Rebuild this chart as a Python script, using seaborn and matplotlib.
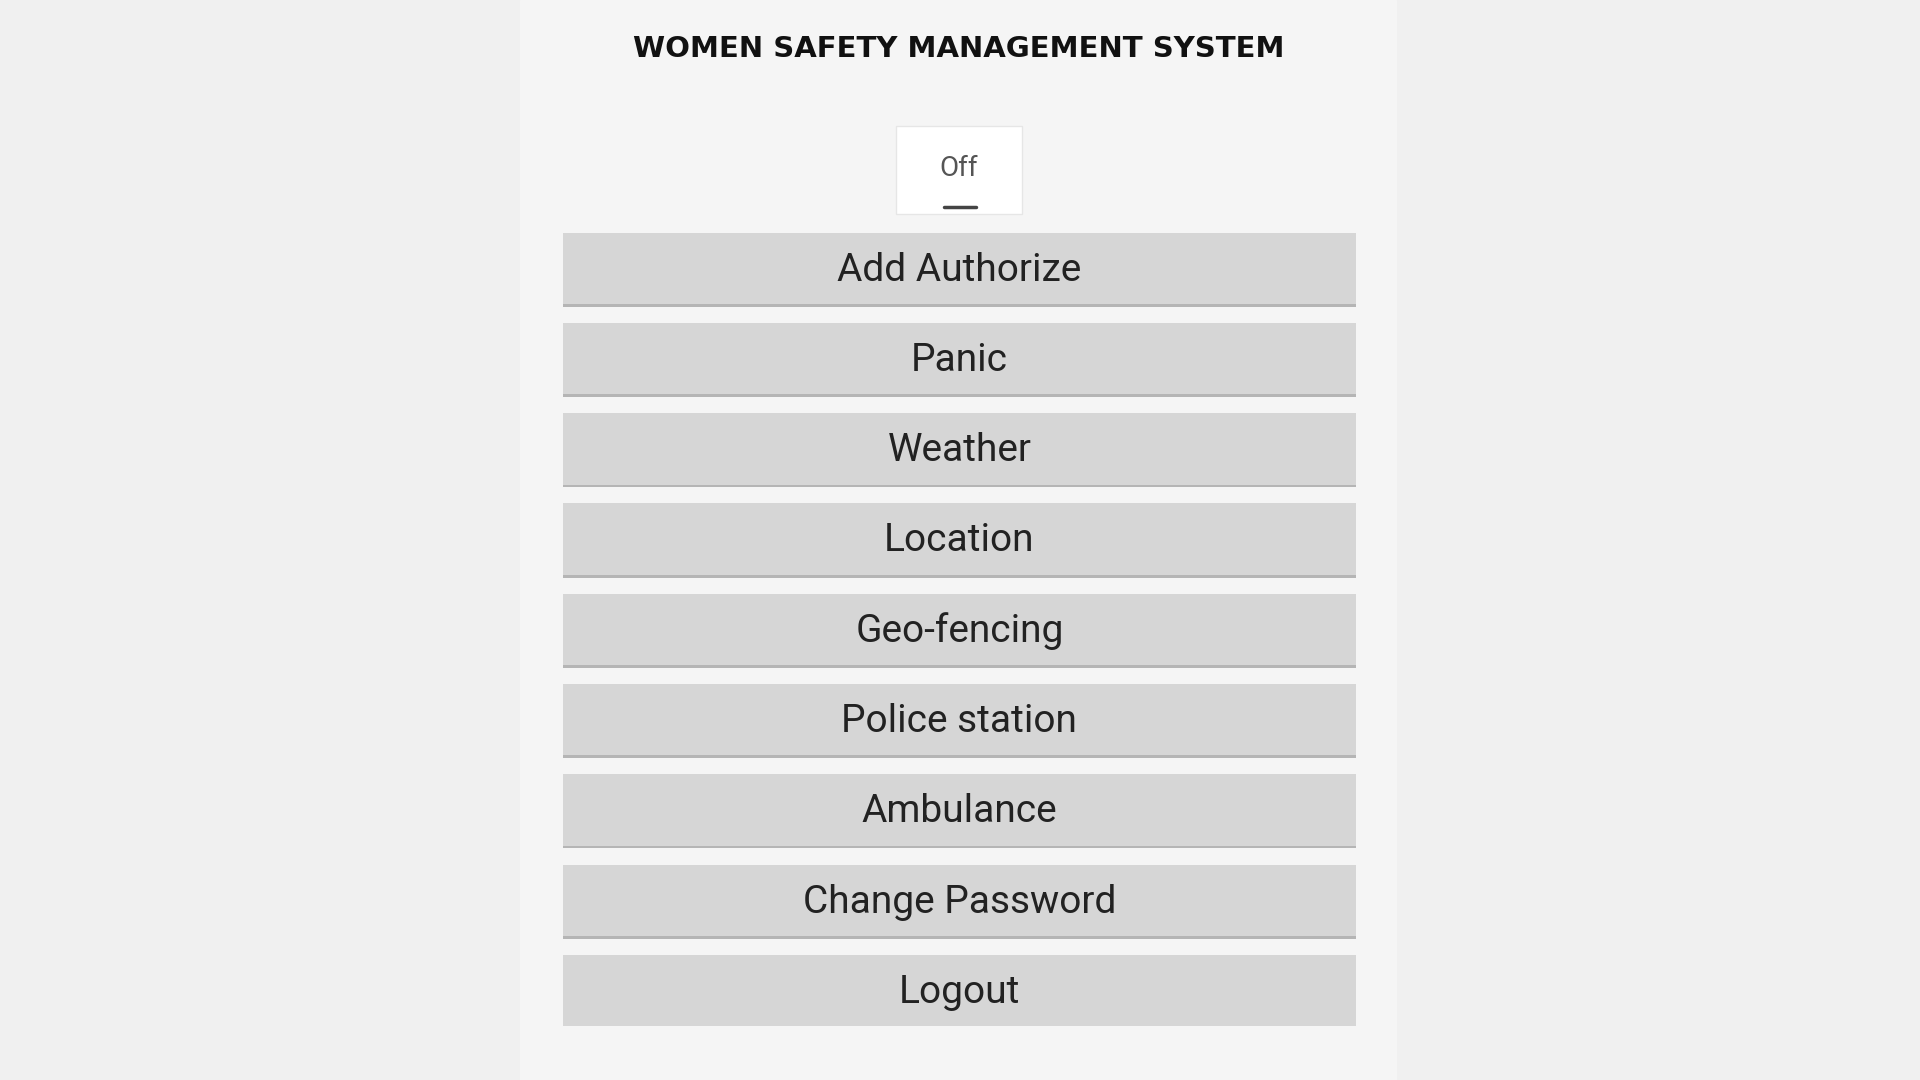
import matplotlib
matplotlib.use("Agg")
import matplotlib.pyplot as plt
import matplotlib.patheffects as pe
import pandas as pd
import seaborn as sns

title = "WOMEN SAFETY MANAGEMENT SYSTEM"
toggle_label = "Off"
buttons = ["Add Authorize", "Panic", "Weather", "Location", "Geo-fencing",
           "Police station", "Ambulance", "Change Password", "Logout"]
widths = [1] * len(buttons)

sns.set_theme(style="white")
plt.rcParams["font.family"] = ["Roboto", "DejaVu Sans"]

W, H = 1568, 882  # reference layout units
fig = plt.figure(figsize=(19.2, 10.8), dpi=100, facecolor="#f0f0f0")

# background panel
bg = fig.add_axes([0, 0, 1, 1])
bg.set_xlim(0, W)
bg.set_ylim(H, 0)
bg.axis("off")
bg.add_patch(plt.Rectangle((425, 0), 715, H, color="#f5f5f5", zorder=0))
bg.text(783, 40, title, ha="center", va="center", fontsize=21,
        fontweight="bold", color="#111111", family=["DejaVu Sans"])
bg.add_patch(plt.Rectangle((732, 103), 103, 72, facecolor="white",
                           edgecolor="#e6e6e6", lw=1, zorder=1))
bg.text(783, 138, toggle_label, ha="center", va="center", fontsize=20,
        color="#555555", zorder=2)
bg.plot([771, 797], [169, 169], color="#444444", lw=2.5, zorder=2)

# buttons
def fx(x):
    return x / W

def fy(y):
    return 1 - y / H

ax = fig.add_axes([fx(460), fy(838), fx(1107) - fx(460), fy(190) - fy(838)])
df = pd.DataFrame({"label": buttons, "w": widths})
sns.barplot(data=df, x="w", y="label", orient="h", color="#d6d6d6",
            saturation=1, width=0.79, ax=ax)
for p in ax.patches:
    p.set_edgecolor("none")
    p.set_path_effects([pe.SimplePatchShadow(offset=(0, -2), shadow_rgbFace="#9a9a9a",
                                             alpha=0.7), pe.Normal()])
for i, name in enumerate(buttons):
    ax.text(0.5, i + 0.02, name, ha="center", va="center", fontsize=28, color="#222222")
ax.set_xlim(0, 1)
ax.set_ylim(len(buttons) - 1 + 0.395, -0.395)
ax.axis("off")

fig.savefig("out.png", dpi=100, facecolor=fig.get_facecolor())
